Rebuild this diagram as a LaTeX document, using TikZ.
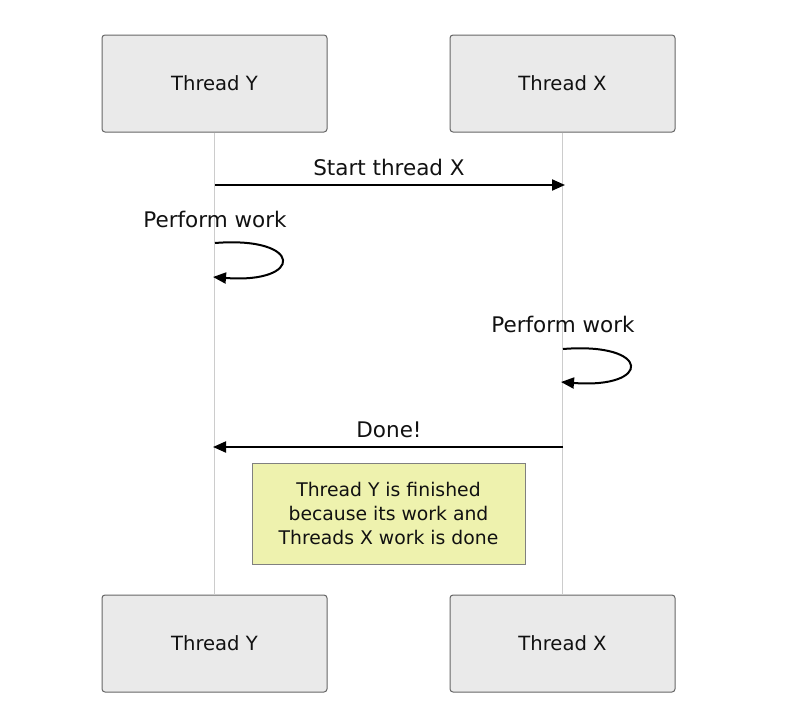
\documentclass[tikz,border=0pt]{standalone}
\usepackage{fontspec}
\setmainfont{DejaVu Sans}
\usetikzlibrary{arrows.meta}
\definecolor{actfill}{HTML}{EAEAEA}
\definecolor{actdraw}{HTML}{666666}
\definecolor{lifeline}{HTML}{CCCCCC}
\definecolor{notefill}{HTML}{EEF2AE}
\definecolor{notedraw}{HTML}{808080}
\definecolor{txt}{HTML}{111111}
\begin{document}
\begin{tikzpicture}[x=1pt,y=-1pt,
  actor/.style={draw=actdraw,fill=actfill,rounded corners=3pt,line width=1pt,minimum width=225pt,minimum height=97pt,inner sep=0pt,font=\fontsize{19.6}{22}\selectfont,text=txt},
  life/.style={draw=lifeline,line width=1pt},
  msg/.style={draw=black,line width=2pt,-{Triangle[length=13pt,width=11pt]}},
  lbl/.style={font=\fontsize{21.5}{24}\selectfont,text=txt,inner sep=0pt},
  notebox/.style={draw=notedraw,fill=notefill,line width=1pt,minimum width=273pt,minimum height=101pt,inner sep=0pt,align=center,font=\fontsize{18.8}{24}\selectfont,text=txt}]
\useasboundingbox (0,0) rectangle (796,712);
% actors
\node[actor] (yt) at (214.5,83.5) {Thread Y};
\node[actor] (xt) at (562.5,83.5) {Thread X};
\node[actor] (yb) at (214.5,643.5) {Thread Y};
\node[actor] (xb) at (562.5,643.5) {Thread X};
% lifelines
\draw[life] (yt.south) -- (yb.north);
\draw[life] (xt.south) -- (xb.north);
% coordinates on lifelines
\coordinate (y1) at (215,185);
\coordinate (x1) at (565,185);
\coordinate (y2a) at (215,243);
\coordinate (y2b) at (213,277);
\coordinate (x3a) at (563,349);
\coordinate (x3b) at (561,382);
\coordinate (x4) at (563,447);
\coordinate (y4) at (213,447);
% message 1
\draw[msg] (y1) -- (x1);
\node[lbl] (m1) at (389,167) {Start thread X};
% self loop Y
\node[lbl] (m2) at (215,219) {Perform work};
\draw[msg] (y2a) .. controls (304,236) and (304,284) .. (y2b);
% self loop X
\node[lbl] (m3) at (563,324) {Perform work};
\draw[msg] (x3a) .. controls (652,342) and (652,389) .. (x3b);
% message 4
\draw[msg] (x4) -- (y4);
\node[lbl] (m4) at (389,430) {Done!};
% note
\node[notebox] (note) at (388.5,513.5) {Thread Y is finished\\because its work and\\Threads X work is done};
\end{tikzpicture}
\end{document}
